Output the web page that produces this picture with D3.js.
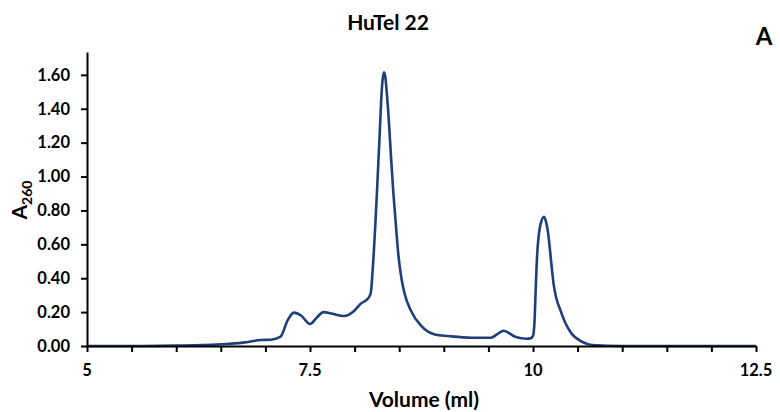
<!DOCTYPE html>
<html>
<head>
<meta charset="utf-8">
<script src="https://cdn.jsdelivr.net/npm/d3@7"></script>
<style>
  body { margin: 0; background: #fff; }
  text { font-family: Lato, "Open Sans", sans-serif; font-weight: bold; fill: #000; }
</style>
</head>
<body>
<div id="graph"></div>
<script>
// chromatogram trace
const volume = [5, 5.5, 6, 6.3, 6.5, 6.75, 6.95, 7.06, 7.17, 7.25, 7.32, 7.4, 7.5, 7.58, 7.65, 7.75, 7.88, 8.0, 8.07, 8.15, 8.18, 8.21, 8.25, 8.285, 8.30, 8.315, 8.33, 8.345, 8.36, 8.385, 8.41, 8.435, 8.465, 8.49, 8.525, 8.56, 8.63, 8.75, 8.9, 9.05, 9.31, 9.53, 9.6, 9.67, 9.8, 9.93, 9.97, 10.0, 10.016, 10.03, 10.04, 10.05, 10.067, 10.087, 10.124, 10.15, 10.17, 10.19, 10.23, 10.32, 10.43, 10.55, 10.66, 11, 12.5];
const a260 = [0, 0, 0.002, 0.005, 0.01, 0.02, 0.035, 0.037, 0.055, 0.153, 0.197, 0.18, 0.13, 0.17, 0.20, 0.19, 0.177, 0.21, 0.25, 0.28, 0.31, 0.51, 0.90, 1.295, 1.47, 1.575, 1.615, 1.585, 1.50, 1.32, 1.10, 0.90, 0.70, 0.54, 0.40, 0.31, 0.21, 0.117, 0.068, 0.059, 0.049, 0.049, 0.07, 0.09, 0.055, 0.043, 0.045, 0.06, 0.134, 0.33, 0.468, 0.567, 0.665, 0.724, 0.763, 0.724, 0.665, 0.567, 0.37, 0.193, 0.075, 0.025, 0.006, 0, 0];

const yTicks = [0, 0.2, 0.4, 0.6, 0.8, 1.0, 1.2, 1.4, 1.6];
const xLabels = [5, 7.5, 10, 12.5];
const xMinor = [5, 5.5, 6, 6.5, 7, 7.5, 8, 8.5, 9, 9.5, 10, 10.5, 11, 11.5, 12, 12.5];

const W = 780, H = 412;
const margin = { top: 52, right: 24, bottom: 66, left: 87 };

const svg = d3.select("#graph").append("svg")
  .attr("width", W).attr("height", H);

const x = d3.scaleLinear().domain([5, 12.5]).range([margin.left, W - margin.right]);
const y = d3.scaleLinear().domain([0, 1.735]).range([H - margin.bottom, margin.top]);

// trace
const line = d3.line()
  .x((d, i) => x(volume[i]))
  .y(d => y(d))
  .curve(d3.curveMonotoneX);

svg.append("path")
  .datum(a260)
  .attr("d", line)
  .attr("fill", "none")
  .attr("stroke", "#1f3f7c")
  .attr("stroke-width", 2.6)
  .attr("stroke-linejoin", "round");

// y axis
const yAxis = svg.append("g")
  .attr("transform", `translate(${margin.left},0)`)
  .call(d3.axisLeft(y).tickValues(yTicks).tickFormat(d3.format(".2f")).tickSize(6).tickSizeOuter(0));
yAxis.select(".domain").attr("stroke", "#000").attr("stroke-width", 2);
yAxis.selectAll(".tick line").attr("stroke-width", 2);
yAxis.selectAll(".tick text").attr("x", -17).style("font-size", "16.5px");

// x axis
const xAxis = svg.append("g")
  .attr("transform", `translate(0,${y(0)})`)
  .call(d3.axisBottom(x).tickValues(xMinor).tickFormat("").tickSize(6).tickSizeOuter(0));
xAxis.select(".domain").attr("stroke", "#000").attr("stroke-width", 2);
xAxis.selectAll(".tick line").attr("stroke-width", 2);

svg.append("g").selectAll("text")
  .data(xLabels)
  .join("text")
  .attr("x", d => x(d))
  .attr("y", y(0) + 30)
  .attr("text-anchor", "middle")
  .style("font-size", "16.5px")
  .text(d => d);

// labels
svg.append("text")
  .attr("x", 424)
  .attr("y", 407)
  .attr("text-anchor", "middle")
  .style("font-size", "21px")
  .text("Volume (ml)");

const yl = svg.append("text")
  .attr("transform", `translate(27,200) rotate(-90)`)
  .attr("text-anchor", "middle")
  .style("font-size", "21px");
yl.append("tspan").text("A");
yl.append("tspan").attr("dy", 5).style("font-size", "14px").text("260");

svg.append("text")
  .attr("x", 388)
  .attr("y", 30)
  .attr("text-anchor", "middle")
  .style("font-size", "21px")
  .text("HuTel 22");

svg.append("text")
  .attr("x", 764)
  .attr("y", 45)
  .attr("text-anchor", "middle")
  .style("font-size", "24px")
  .text("A");
</script>
</body>
</html>
